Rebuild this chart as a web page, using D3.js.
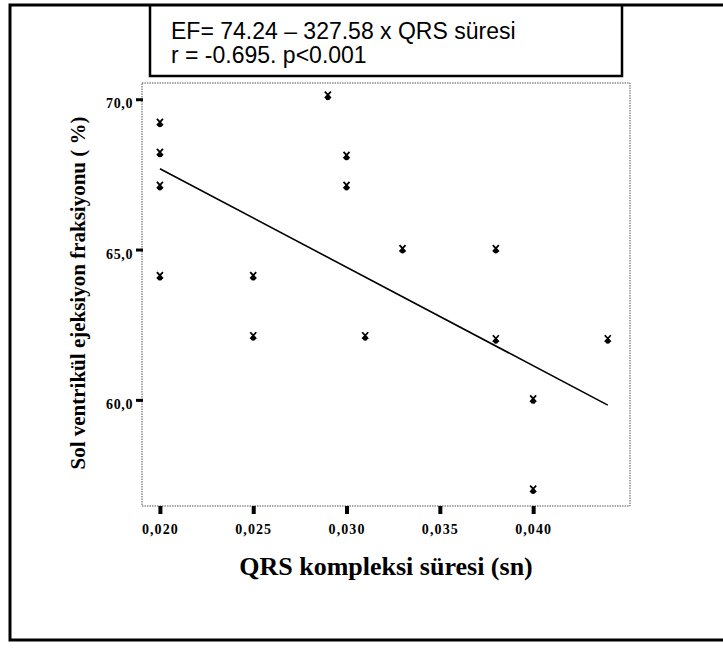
<!DOCTYPE html>
<html>
<head>
<meta charset="utf-8">
<script src="https://cdn.jsdelivr.net/npm/d3@7/dist/d3.min.js"></script>
<style>
  html, body { margin: 0; padding: 0; background: #fff; }
  svg { display: block; }
</style>
</head>
<body>
<svg id="chart" width="723" height="649"></svg>
<script>
// ---- data ----
const qrsDuration = [0.020, 0.020, 0.020, 0.020, 0.025, 0.025, 0.029, 0.030, 0.030, 0.031, 0.033, 0.038, 0.038, 0.040, 0.040, 0.044];
const ejectionFraction = [69.2, 68.2, 67.1, 64.1, 64.1, 62.1, 70.1, 68.1, 67.1, 62.1, 65.0, 65.0, 62.0, 60.0, 57.0, 62.0];
const xTicks = [0.020, 0.025, 0.030, 0.035, 0.040];
const yTicks = [60, 65, 70];
const intercept = 74.24;
const slope = -327.58;
const titleLines = ["EF= 74.24 \u2013 327.58 x QRS s\u00fcresi", "r = -0.695. p<0.001"];
const xLabel = "QRS kompleksi s\u00fcresi (sn)";
const yLabel = "Sol ventrik\u00fcl ejeksiyon fraksiyonu ( %)";

const svg = d3.select("#chart");
const locale = d3.formatLocale({decimal: ",", thousands: ".", grouping: [3], currency: ["", ""]});

const plot = {left: 142, right: 630, top: 83, bottom: 506};
const x = d3.scaleLinear().domain([0.01904, 0.04519]).range([plot.left, plot.right]);
const y = d3.scaleLinear().domain([56.47, 70.54]).range([plot.bottom, plot.top]);

// outer frame
svg.append("path")
  .attr("d", `M 723 5 L 10 5 L 10 640 L 723 640`)
  .attr("fill", "none").attr("stroke", "#000").attr("stroke-width", 3);

// title box
svg.append("path")
  .attr("d", `M 150 5 L 150 76 L 622 76 L 622 5`)
  .attr("fill", "none").attr("stroke", "#000").attr("stroke-width", 2.5);
svg.selectAll("text.title").data(titleLines).join("text")
  .attr("class", "title")
  .attr("x", 171)
  .attr("y", (d, i) => 39 + i * 24)
  .attr("font-family", "Liberation Sans, Arial, sans-serif")
  .attr("font-size", 23)
  .attr("fill", "#000")
  .text(d => d);

// plot frame (dotted)
svg.append("rect")
  .attr("x", plot.left).attr("y", plot.top)
  .attr("width", plot.right - plot.left).attr("height", plot.bottom - plot.top)
  .attr("fill", "none").attr("stroke", "#555").attr("stroke-width", 1)
  .attr("stroke-dasharray", "1.5,1");

const fmtX = locale.format(".3f");
const fmtY = locale.format(".1f");

// x axis
const gx = svg.append("g").attr("transform", `translate(0,${plot.bottom})`)
  .call(d3.axisBottom(x).tickValues(xTicks).tickSize(8).tickPadding(10).tickFormat(fmtX));
gx.select(".domain").remove();
gx.selectAll(".tick line").attr("stroke", "#000").attr("stroke-width", 4);
gx.selectAll(".tick text")
  .attr("font-family", "Liberation Serif, Times New Roman, serif")
  .attr("font-weight", "bold").attr("font-size", 14)
  .attr("letter-spacing", 1.1).attr("fill", "#000");

// y axis
const gy = svg.append("g").attr("transform", `translate(${plot.left + 1},0)`)
  .call(d3.axisLeft(y).tickValues(yTicks).tickSize(7).tickPadding(3).tickFormat(fmtY));
gy.select(".domain").remove();
gy.selectAll(".tick line").attr("stroke", "#000").attr("stroke-width", 3);
gy.selectAll(".tick text")
  .attr("font-family", "Liberation Serif, Times New Roman, serif")
  .attr("font-weight", "bold").attr("font-size", 14)
  .attr("letter-spacing", 0.6).attr("dy", "0.62em").attr("fill", "#000");

// regression line
const xExt = d3.extent(qrsDuration);
const lineData = xExt.map(v => [v, intercept + slope * v]);
svg.append("path")
  .datum(lineData)
  .attr("d", d3.line().x(d => x(d[0])).y(d => y(d[1])))
  .attr("fill", "none").attr("stroke", "#000").attr("stroke-width", 1.6);

// points
const pts = svg.append("g").selectAll("g").data(qrsDuration.map((v, i) => [v, ejectionFraction[i]])).join("g")
  .attr("transform", d => `translate(${x(d[0])},${y(d[1])})`);
pts.append("path")
  .attr("d", "M -3 -4.5 L 3 2 M 3 -4.5 L -3 2")
  .attr("stroke", "#000").attr("stroke-width", 1.8).attr("fill", "none");
pts.append("ellipse")
  .attr("cx", 0).attr("cy", 1.8).attr("rx", 2.4).attr("ry", 2.2)
  .attr("fill", "#000");

// axis labels
svg.append("text")
  .attr("x", 386).attr("y", 575)
  .attr("text-anchor", "middle")
  .attr("font-family", "Liberation Serif, Times New Roman, serif")
  .attr("font-weight", "bold").attr("font-size", 26)
  .attr("fill", "#000")
  .text(xLabel);

svg.append("text")
  .attr("transform", `translate(85,293) rotate(-90)`)
  .attr("text-anchor", "middle")
  .attr("font-family", "Liberation Serif, Times New Roman, serif")
  .attr("font-weight", "bold").attr("font-size", 21)
  .attr("fill", "#000")
  .text(yLabel);
</script>
</body>
</html>
